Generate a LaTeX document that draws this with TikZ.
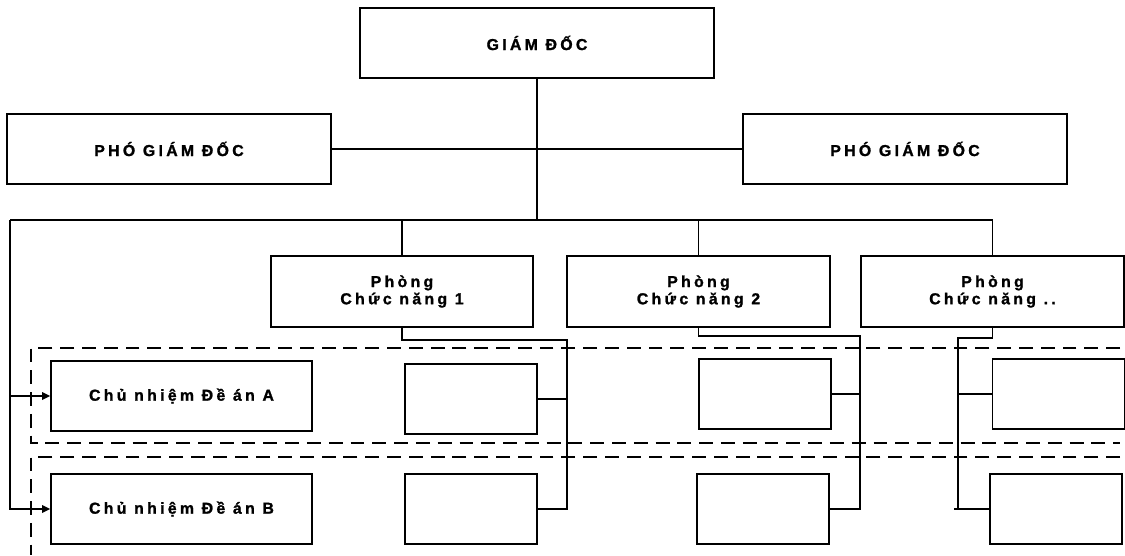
\documentclass[tikz,border=0pt]{standalone}
\usepackage{fontspec}
\setmainfont{Liberation Sans}[LetterSpace=21,BoldFeatures={FakeBold=1.4}]
\usetikzlibrary{arrows.meta,positioning}
\tikzset{
  box/.style={draw,line width=0.95pt,align=center,font=\bfseries\fontsize{9}{9.8}\selectfont,inner sep=0pt},
  head/.style={box,minimum width=6.48cm,minimum height=1.4cm},
  dept/.style={box,minimum width=5.25cm,minimum height=1.42cm},
  proj/.style={box,minimum width=5.22cm,minimum height=1.4cm},
  cell/.style={box,minimum width=2.64cm,minimum height=1.4cm},
  ln/.style={line width=0.95pt},
  arr/.style={-{Triangle[length=1.6mm,width=1.5mm]},line width=0.95pt},
  band/.style={line width=0.95pt,dash pattern=on 7.9pt off 4.5pt},
}
\begin{document}
\begin{tikzpicture}
\useasboundingbox (0,0) rectangle (22.5,-11.1);
\node[head,minimum width=7.08cm] (gd) at (10.74,-0.86) {GIÁM ĐỐC};
\node[head] (pgd1) at (3.38,-2.98) {PHÓ GIÁM ĐỐC};
\node[head] (pgd2) at (18.1,-2.98) {PHÓ GIÁM ĐỐC};
\node[dept] (p1) at (8.04,-5.83) {Phòng\\Chức năng 1};
\node[dept] (p2) at (13.97,-5.83) {Phòng\\Chức năng 2};
\node[dept] (p3) at (19.85,-5.83) {Phòng\\Chức năng ..};
\node[proj] (ca) at (3.63,-7.92) {Chủ nhiệm Đề án A};
\node[proj] (cb) at (3.63,-10.18) {Chủ nhiệm Đề án B};
\node[cell] (e1a) at (9.42,-7.98) {};
\node[cell] (e1b) at (9.42,-10.18) {};
\node[cell] (e2a) at (15.3,-7.88) {};
\node[cell] (e2b) at (15.26,-10.18) {};
\node[cell] (e3a) at (21.17,-7.88) {};
\node[cell] (e3b) at (21.12,-10.18) {};
% bus lines
\coordinate (bus) at (10.74,-4.4);
\coordinate (busL) at (0.2,-4.4);
\draw[ln] (gd.south) -- (bus);
\draw[ln] (pgd1) -- (pgd2);
\draw[ln] (busL) -- (p3.north |- bus) -- (p3.north);
\foreach \p in {p1,p2} \draw[ln] (\p.north |- bus) -- (\p.north);
\draw[arr] (busL) |- (cb.west);
\draw[arr] (busL |- ca.west) -- (ca.west);
% departments to cells
\coordinate (k1) at (11.34,-6.8);
\coordinate (k2) at (17.2,-6.72);
\coordinate (k3) at (19.16,-6.76);
\draw[ln] (p1.south) |- (k1) |- (e1b.east);
\draw[ln] (e1a.east) -- (e1a.east -| k1);
\draw[ln] (p2.south) |- (k2) |- (e2b.east);
\draw[ln] (e2a.east) -- (e2a.east -| k2);
\draw[ln] (p3.south) |- (k3) -- (k3 |- e3b.west);
\draw[ln] (e3b.west) -- ++(-0.7,0);
\draw[ln] (e3a.west) -- (e3a.west -| k3);
% project bands
\draw[band] (22.4,-6.96) -| (0.62,-8.86) -- (22.4,-8.86);
\draw[band] (22.4,-9.14) -| (0.62,-11.1);
\end{tikzpicture}
\end{document}
